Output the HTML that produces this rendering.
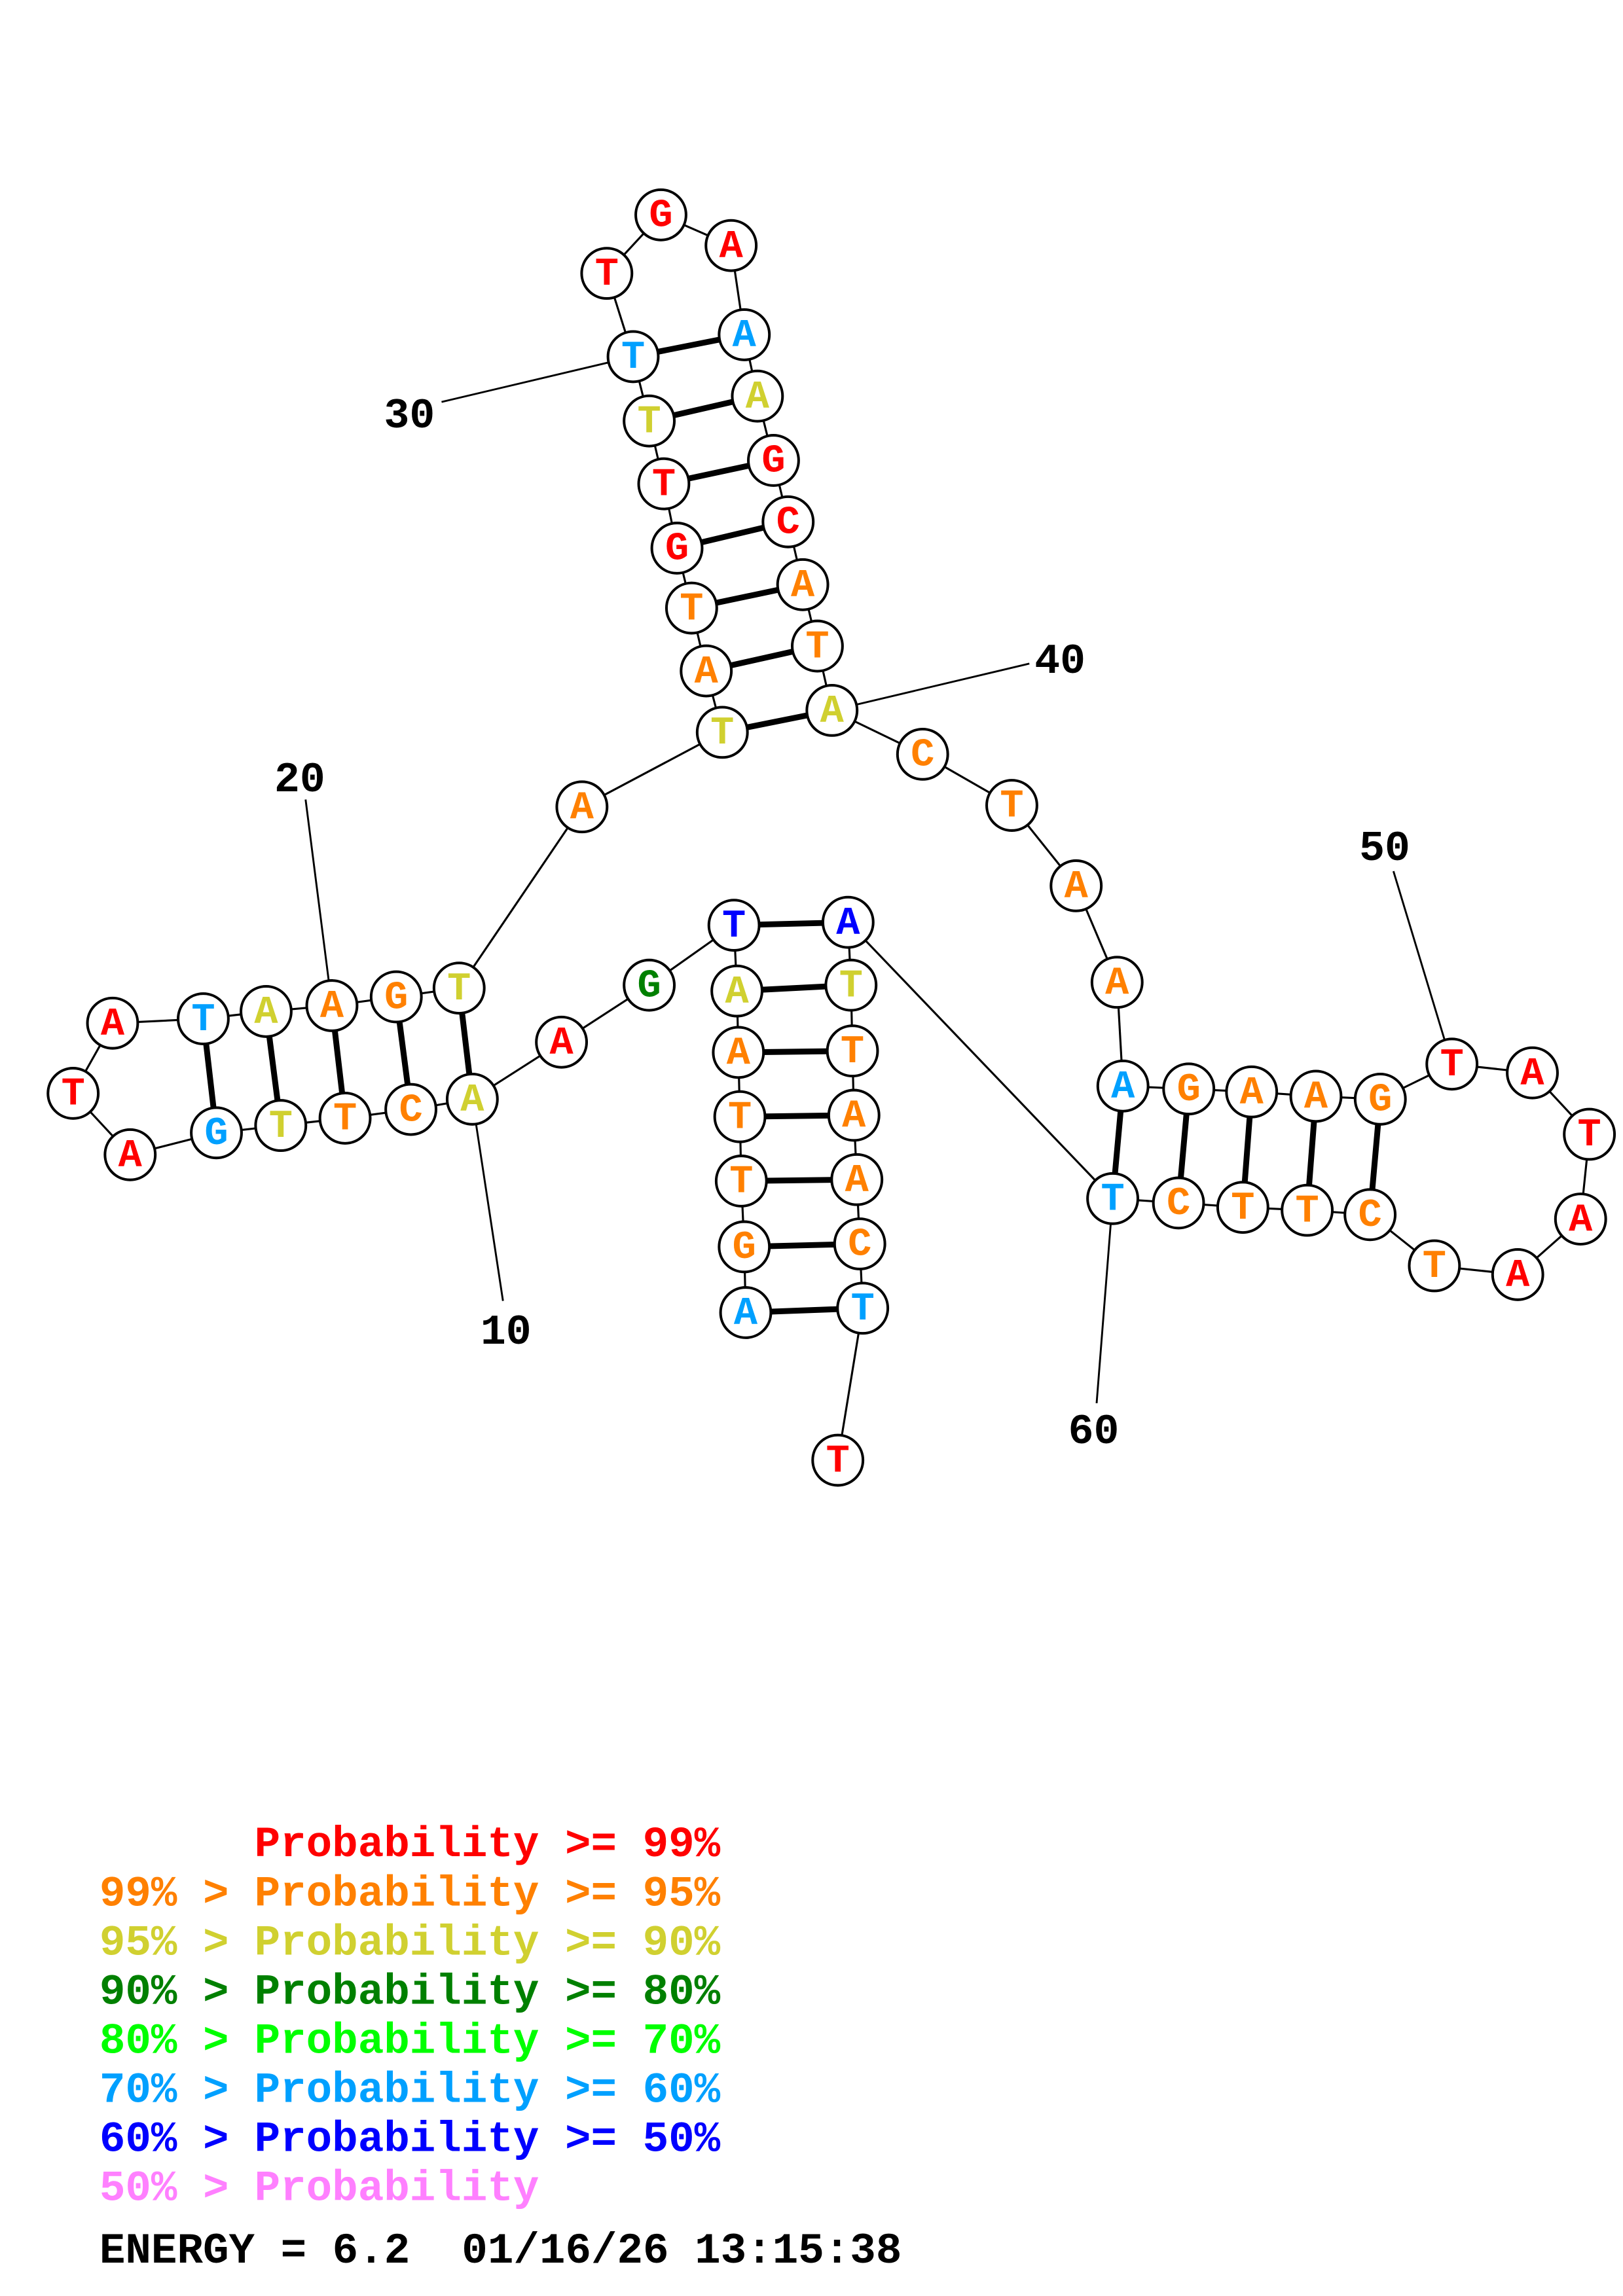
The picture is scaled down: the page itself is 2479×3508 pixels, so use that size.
<!DOCTYPE html>
<html><head><meta charset="utf-8"><style>
html,body{margin:0;padding:0;background:#fff;}
svg{display:block;}
.n{font-family:"Liberation Mono",monospace;font-weight:bold;font-size:27px;text-anchor:middle;dominant-baseline:central;}
.lab{font-family:"Liberation Mono",monospace;font-weight:bold;font-size:29px;fill:#000;text-anchor:middle;dominant-baseline:central;}
.lg{font-family:"Liberation Mono",monospace;font-weight:bold;font-size:29.5px;}
</style></head><body>
<svg width="2479" height="3508" viewBox="0 -2 1110 1570.8" preserveAspectRatio="none" xmlns="http://www.w3.org/2000/svg" id="s"></svg>
<script>
const R='#ff0000',O='#ff8000',Y='#d0d030',G='#008000',L='#00a0ff',B='#0000ff';
const N=[
['A',510,896,L],['G',509,851,O],['T',507,806,O],['T',506,762,O],['A',505,718,O],['A',504,676,Y],['T',502,631,B],
['G',444,672,G],['A',384,711,R],['A',323,750,Y],['C',281,757,O],['T',236,763,O],['T',192,768,Y],['G',148,773,L],
['A',89,788,R],['T',50,746,R],['A',77,698,R],['T',139,695,L],['A',182,690,Y],['A',227,686,O],['G',271,680,O],
['T',314,674,Y],['A',398,550,O],['T',494,499,Y],['A',483,457,O],['T',473,414,O],['G',463,373,R],['T',454,329,R],
['T',444,286,Y],['T',433,242,L],['T',415,185,R],['G',452,145,R],['A',500,166,R],['A',509,227,L],['A',518,269,Y],
['G',529,313,R],['C',539,355,R],['A',549,398,O],['T',559,440,O],['A',569,484,Y],['C',631,514,O],['T',692,549,O],
['A',736,604,O],['A',764,670,O],['A',768,741,L],['G',813,743,O],['A',856,745,O],['A',900,748,O],['G',944,750,O],
['T',993,726,R],['A',1048,732,R],['T',1087,774,R],['A',1081,832,R],['A',1038,870,R],['T',981,864,O],['C',937,829,O],
['T',894,826,O],['T',850,824,O],['C',806,821,O],['T',761,818,L],['A',580,629,B],['T',582,672,Y],['T',583,717,O],
['A',584,761,O],['A',586,805,O],['C',588,849,O],['T',590,893,L],['T',573,997,R]];
const P=[[1,67],[2,66],[3,65],[4,64],[5,63],[6,62],[7,61],[10,22],[11,21],[12,20],[13,19],[14,18],
[24,40],[25,39],[26,38],[27,37],[28,36],[29,35],[30,34],[45,60],[46,59],[47,58],[48,57],[49,56]];
let h='';
const labs=[[10,344,888,346,910],[20,209,545,205,532],[30,302,273,280,283],[40,704,452,725,451],[50,953,594,947,579],[60,750,958,748,978]];
for(const l of labs){const n=N[l[0]-1];h+=`<line x1="${n[1]}" y1="${n[2]}" x2="${l[1]}" y2="${l[2]}" stroke="#000" stroke-width="1.3"/>`;h+=`<text class="lab" x="${l[3]}" y="${l[4]}">${l[0]}</text>`;}
for(let i=0;i<N.length-1;i++)h+=`<line x1="${N[i][1]}" y1="${N[i][2]}" x2="${N[i+1][1]}" y2="${N[i+1][2]}" stroke="#000" stroke-width="1.4"/>`;
for(const p of P){const a=N[p[0]-1],b=N[p[1]-1];h+=`<line x1="${a[1]}" y1="${a[2]}" x2="${b[1]}" y2="${b[2]}" stroke="#000" stroke-width="4"/>`;}
for(const n of N){h+=`<circle cx="${n[1]}" cy="${n[2]}" r="17.2" fill="#fff" stroke="#000" stroke-width="1.8"/><text class="n" x="${n[1]}" y="${n[2]+1}" fill="${n[3]}">${n[0]}</text>`;}
const lg=[['','Probability >= 99%',R],['99% > ','Probability >= 95%',O],['95% > ','Probability >= 90%',Y],['90% > ','Probability >= 80%',G],
['80% > ','Probability >= 70%','#00ff00'],['70% > ','Probability >= 60%',L],['60% > ','Probability >= 50%',B],['50% > ','Probability','#ff80ff']];
lg.forEach((l,i)=>{const y=1268+i*33.6;if(l[0])h+=`<text class="lg" x="68" y="${y}" fill="${l[2]}" xml:space="preserve">${l[0]}</text>`;h+=`<text class="lg" x="174" y="${y}" fill="${l[2]}" xml:space="preserve">${l[1].replace(/>/g,'&gt;')}</text>`;});
h+=`<text class="lg" x="68" y="1546" fill="#000" xml:space="preserve">ENERGY = 6.2  01/16/26 13:15:38</text>`;
document.getElementById('s').innerHTML=h;
</script>
</body></html>
